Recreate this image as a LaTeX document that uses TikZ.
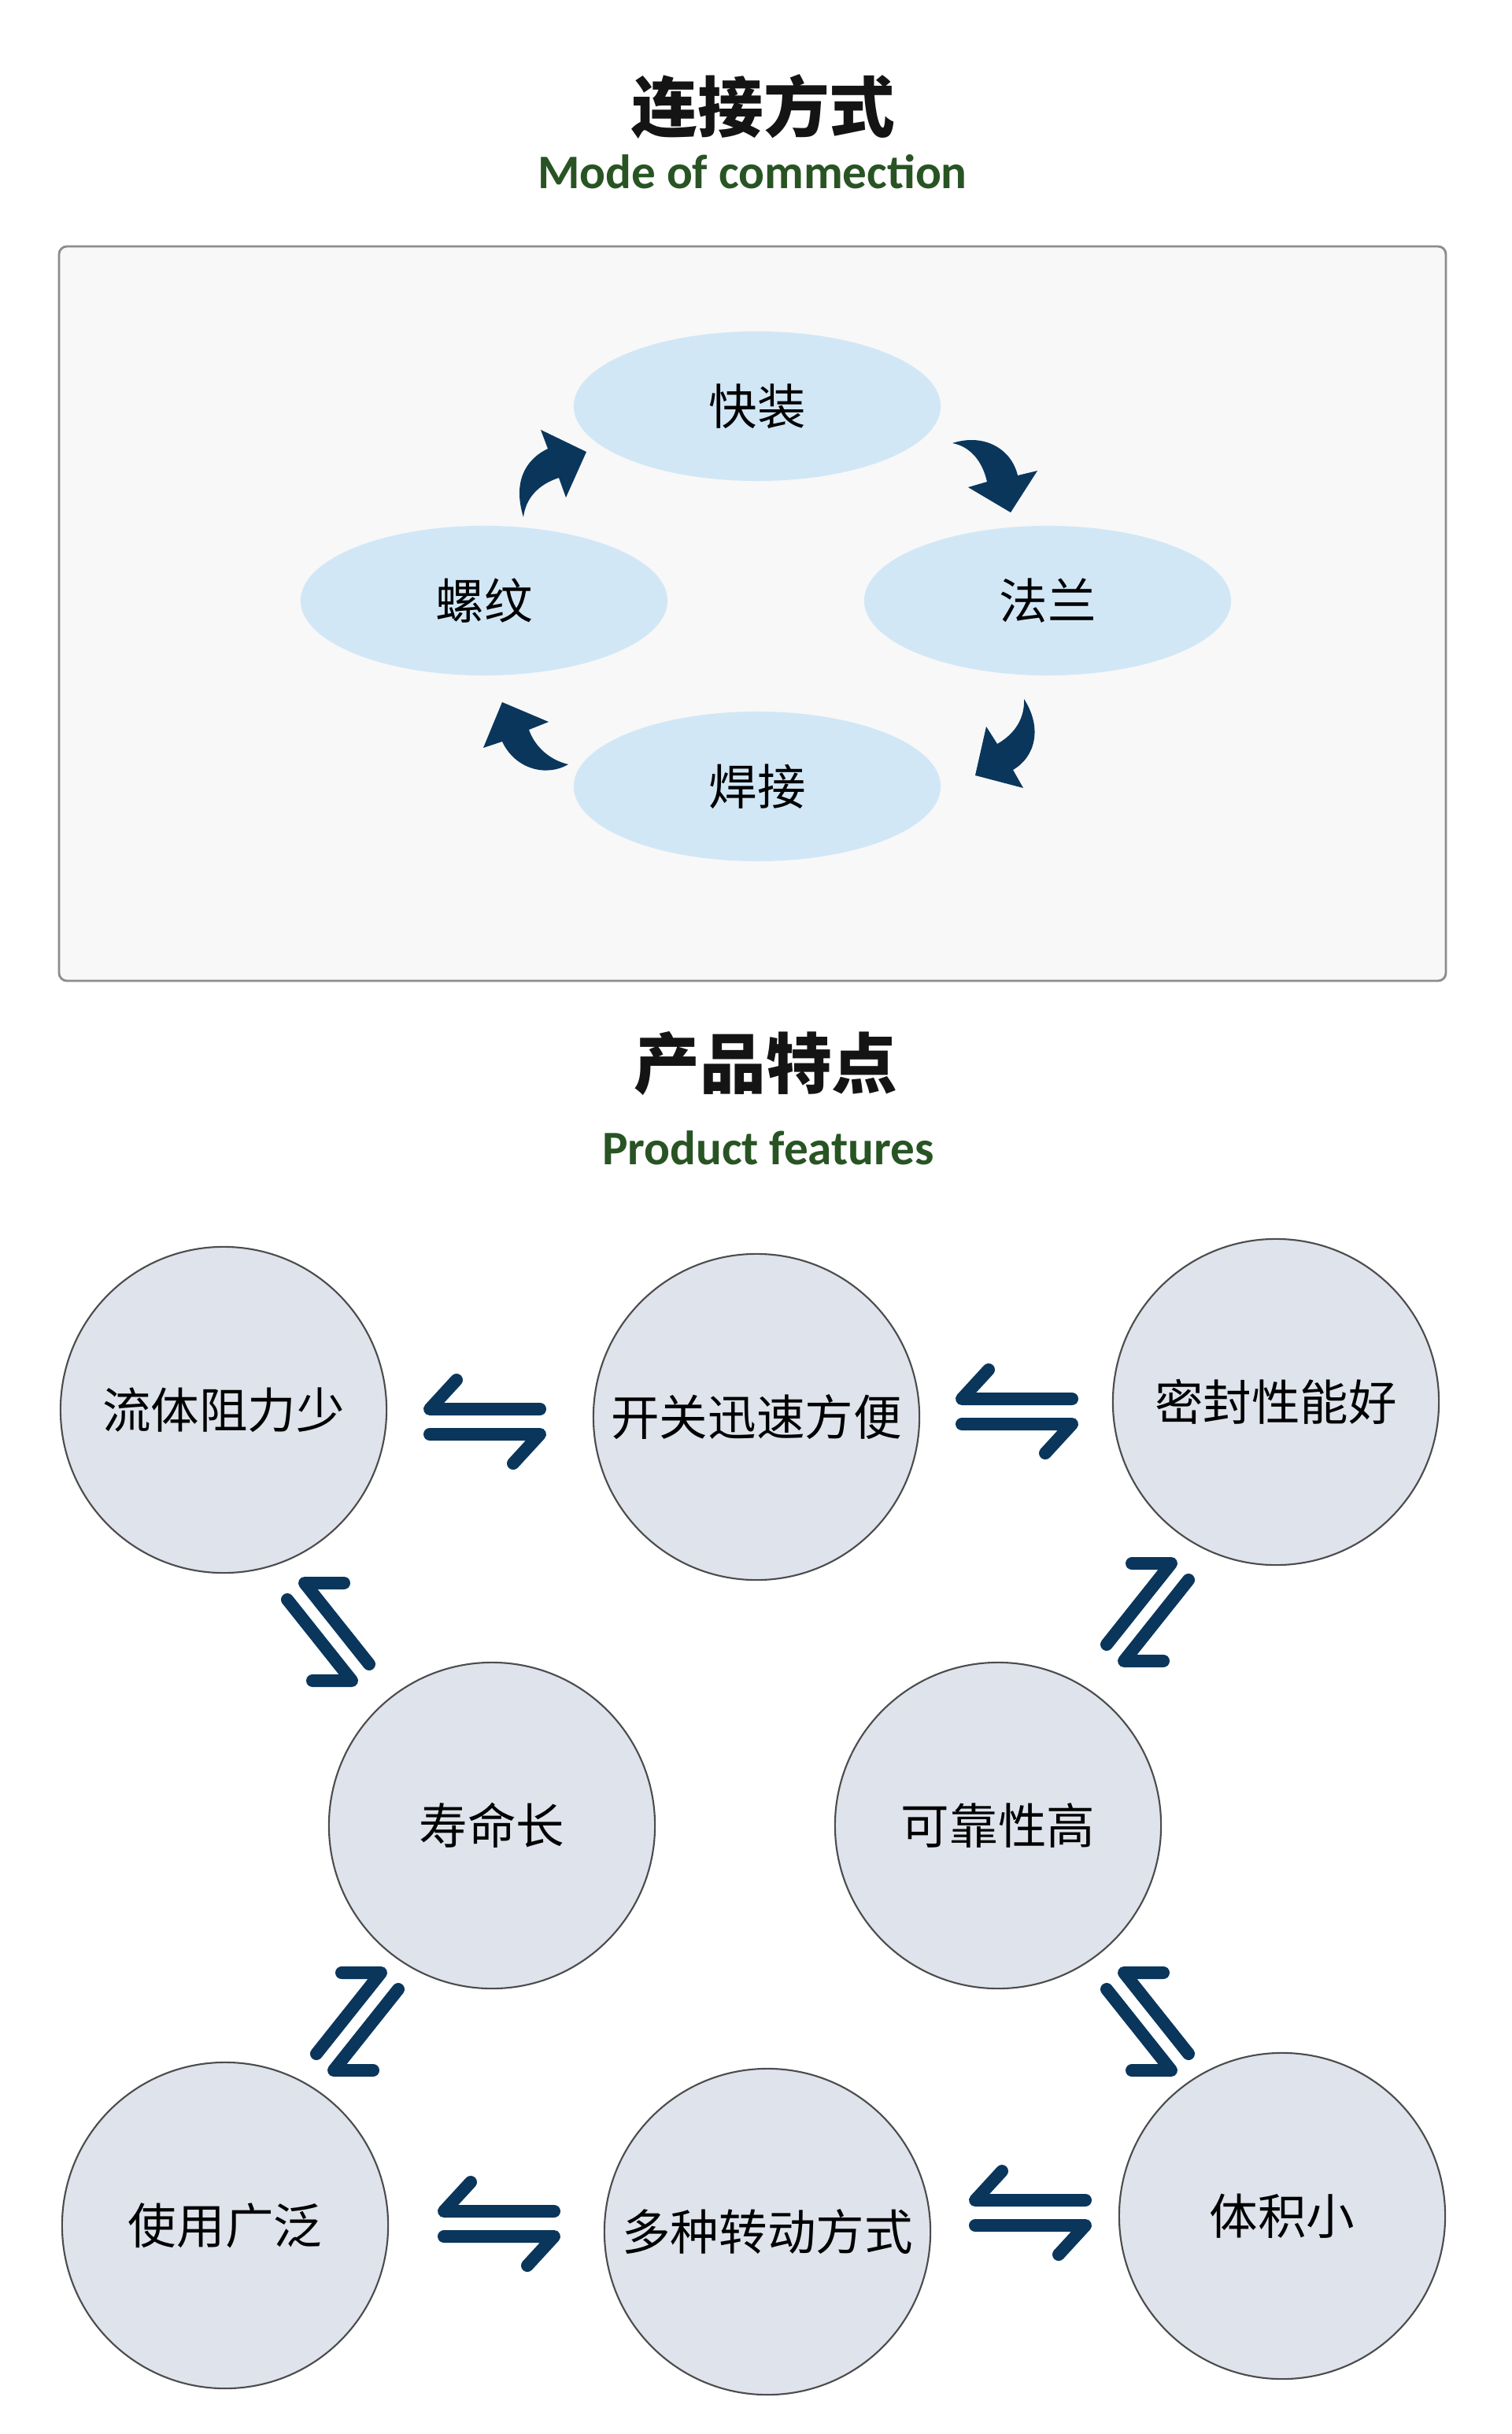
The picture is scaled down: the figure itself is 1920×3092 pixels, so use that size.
\documentclass[tikz,border=0pt]{standalone}
\usepackage{fontspec}
\setmainfont{Carlito}
\newfontfamily\cjk{Noto Sans CJK SC}
\usepackage{xcolor}
\usetikzlibrary{shapes.geometric}

\definecolor{navy}{RGB}{10,54,92}
\definecolor{ovalblue}{RGB}{210,231,246}
\definecolor{ballgray}{RGB}{222,227,236}
\definecolor{panelgray}{RGB}{248,248,248}
\definecolor{moss}{RGB}{40,84,36}

\begin{document}
\begin{tikzpicture}[x=0.01cm,y=-0.01cm]
		\tikzstyle{headline}=[font=\cjk\bfseries\fontsize{23.8pt}{28pt}\selectfont, text=black!92]
		\tikzstyle{subline}=[font=\bfseries\fontsize{17.4pt}{20pt}\selectfont, text=moss]
		\tikzstyle{oval}=[ellipse, fill=ovalblue, minimum width=4.66cm, minimum height=1.9cm, inner sep=0pt, font=\cjk\fontsize{17.5pt}{20pt}\selectfont]
		\tikzstyle{ball}=[circle, draw=black!70, line width=0.6pt, fill=ballgray, minimum size=4.14cm, inner sep=0pt, font=\cjk\fontsize{17.5pt}{20pt}\selectfont]
		\tikzstyle{bendarrow}=[fill=navy]
		\tikzstyle{harpoon}=[draw=navy, line width=0.16cm, line cap=round, line join=round]
		\tikzset{
			hswap/.pic={
				\draw[harpoon] (-36,-53) -- (-70,-16) -- (70,-16);
				\draw[harpoon] (-70,16) -- (70,16) -- (36,53);
			},
			dswap/.pic={
				\draw[harpoon] (-52,-41) -- (30,62) -- (-20,62);
				\draw[harpoon] (20,-62) -- (-30,-62) -- (52,41);
			}
		}

		\fill[white] (0,0) rectangle (1920,3092);
		\useasboundingbox (0,0) rectangle (1920,3092);

		\begin{scope}
			\node[headline] (conntitle) at (970,136) {连接方式};
			\node[subline] (connsub) at (956,218) {Mode of commection};

			\draw[draw=black!45, line width=0.8pt, fill=panelgray, rounded corners=0.1cm] (75,313) rectangle (1837,1246);

			\node[oval] (kuaizhuang) at (962,516) {快装};
			\node[oval] (luowen) at (615,763) {螺纹};
			\node[oval] (falan) at (1331,763) {法兰};
			\node[oval] (hanjie) at (962,999) {焊接};

			\fill[bendarrow] (665,657) .. controls (652,615) and (665,585) .. (696,570) -- (687,546) -- (745,574) -- (719,632) -- (710,607) .. controls (685,615) and (668,632) .. cycle;
			\fill[bendarrow] (1210,563) .. controls (1250,550) and (1285,570) .. (1293,604) -- (1318,598) -- (1284,651) -- (1230,619) -- (1254,612) .. controls (1248,585) and (1232,567) .. cycle;
			\fill[bendarrow] (1301,888) .. controls (1325,925) and (1315,962) .. (1287,978) -- (1300,1001) -- (1239,985) -- (1253,923) -- (1267,945) .. controls (1290,932) and (1302,912) .. cycle;
			\fill[bendarrow] (722,971) .. controls (695,987) and (655,978) .. (638,942) -- (614,950) -- (638,892) -- (697,917) -- (672,927) .. controls (680,950) and (700,966) .. cycle;
		\end{scope}

		\begin{scope}
			\node[headline] (feattitle) at (973,1351) {产品特点};
			\node[subline] (featsub) at (976,1458) {Product features};

			\node[ball] (lowdrag) at (284,1791) {流体阻力少};
			\node[ball] (quickswitch) at (961,1800) {开关迅速方便};
			\node[ball] (sealing) at (1621,1781) {密封性能好};
			\node[ball] (longlife) at (625,2319) {寿命长};
			\node[ball] (reliable) at (1268,2319) {可靠性高};
			\node[ball] (versatile) at (286,2827) {使用广泛};
			\node[ball] (multidrive) at (975,2835) {多种转动方式};
			\node[ball] (compact) at (1629,2815) {体积小};

			\pic at (616,1806) {hswap};
			\pic at (1292,1793) {hswap};
			\pic at (634,2825) {hswap};
			\pic at (1309,2811) {hswap};
			\pic at (417,2073) {dswap};
			\pic at (1458,2568) {dswap};
			\pic[xscale=-1] at (1458,2048) {dswap};
			\pic[xscale=-1] at (454,2568) {dswap};
		\end{scope}
	\end{tikzpicture}
\end{document}
